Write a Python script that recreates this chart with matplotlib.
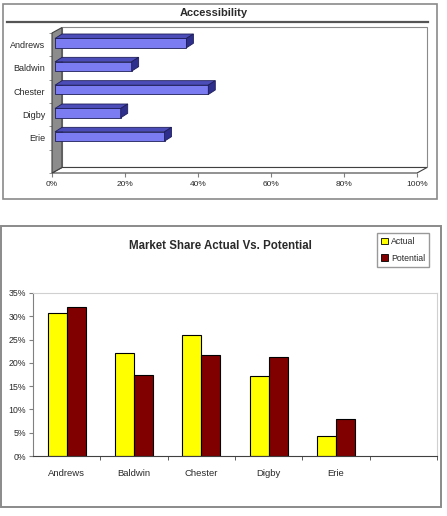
import numpy as np
import matplotlib.pyplot as plt
from matplotlib.patches import Rectangle, Polygon, Patch
from matplotlib.lines import Line2D

# Data
companies = ['Andrews', 'Baldwin', 'Chester', 'Digby', 'Erie']
accessibility = [36, 21, 42, 18, 30]          # percent
actual_share = [30.8, 22.2, 26.0, 17.2, 4.2]  # percent
potential_share = [32.0, 17.4, 21.7, 21.2, 7.9]
pct_ticks = [0, 20, 40, 60, 80, 100]
share_ticks = [0, 5, 10, 15, 20, 25, 30, 35]

W, H = 447, 516
plt.rcParams['font.family'] = ['Liberation Sans', 'DejaVu Sans']
TXT = '#2a2a2a'


def fbox(x0, y0, x1, y1):
    # pixel box (top-left origin) -> figure fraction rect
    return [x0 / W, 1 - y1 / H, (x1 - x0) / W, (y1 - y0) / H]


fig = plt.figure(figsize=(W / 100, H / 100), dpi=100)

# ---------------- Top chart: Accessibility (3-D look) ----------------
fig.add_artist(Rectangle((3 / W, 1 - 199 / H), 434 / W, 195 / H, transform=fig.transFigure,
                         fill=False, ec='#8a8a8a', lw=1.2))
fig.text(214 / W, 1 - 13 / H, 'Accessibility', ha='center', va='center',
         fontsize=8, fontweight='bold', color=TXT)
fig.add_artist(Line2D([7 / W, 428 / W], [1 - 22 / H, 1 - 22 / H], transform=fig.transFigure,
                      color='#555555', lw=1.6))

ax1 = fig.add_axes(fbox(52, 33, 417, 173))
ax1.set_xlim(0, 100)
ax1.set_ylim(5.5, -0.5)
ax1.patch.set_visible(False)
for s in ax1.spines.values():
    s.set_visible(False)

wall = (10, 5.5)      # depth offset of back plane, pixels
bar_front = (3, 1.5)
bar_back = (10, 6)


def proj(x, y, off):
    px, py = ax1.transData.transform((x, y))
    return fig.transFigure.inverted().transform((px + off[0], py + off[1]))


def poly(pts, **kw):
    fig.add_artist(Polygon([proj(x, y, o) for x, y, o in pts], closed=True,
                           transform=fig.transFigure, **kw))


z0 = (0, 0)
# back wall, floor and left wall
poly([(0, -0.5, wall), (100, -0.5, wall), (100, 5.5, wall), (0, 5.5, wall)],
     fc='white', ec='#8a8a8a', lw=0.8)
poly([(0, 5.5, z0), (100, 5.5, z0), (100, 5.5, wall), (0, 5.5, wall)],
     fc='white', ec='#404040', lw=0.8)
poly([(0, -0.5, z0), (0, 5.5, z0), (0, 5.5, wall), (0, -0.5, wall)],
     fc='#8c8c8c', ec='#404040', lw=0.8)

for i, v in enumerate(accessibility):
    y0, y1 = i - 0.2, i + 0.2
    ec = dict(ec='#1e1e5a', lw=0.6)
    poly([(0, y0, bar_front), (v, y0, bar_front), (v, y1, bar_front), (0, y1, bar_front)],
         fc='#7C7CF2', **ec)
    poly([(0, y0, bar_front), (v, y0, bar_front), (v, y0, bar_back), (0, y0, bar_back)],
         fc='#4C4CB8', **ec)
    poly([(v, y0, bar_front), (v, y1, bar_front), (v, y1, bar_back), (v, y0, bar_back)],
         fc='#2E2E8C', **ec)

ax1.set_xticks(pct_ticks)
ax1.set_xticklabels([f'{t}%' for t in pct_ticks])
ax1.set_yticks(range(len(companies)))
ax1.set_yticklabels(companies)
ax1.set_yticks(np.arange(-0.5, 6, 1), minor=True)
ax1.tick_params(axis='x', length=3, color='#808080', labelsize=6, pad=3, labelcolor=TXT)
ax1.tick_params(axis='y', which='major', length=0, labelsize=6.5, pad=5, labelcolor=TXT)
ax1.tick_params(axis='y', which='minor', length=2, color='#808080')

# ---------------- Bottom chart: Market share ----------------
fig.add_artist(Rectangle((1 / W, 1 - 507 / H), 440 / W, 281 / H, transform=fig.transFigure,
                         fill=False, ec='#8a8a8a', lw=1.4))
fig.text(220 / W, 1 - 246 / H, 'Market Share Actual Vs. Potential', ha='center', va='center',
         fontsize=8.3, fontweight='bold', color=TXT)

ax2 = fig.add_axes(fbox(33, 293, 437, 456))
x = np.arange(len(companies))
ax2.bar(x - 0.14, actual_share, 0.28, color='#FFFF00', edgecolor='black', lw=0.8)
ax2.bar(x + 0.14, potential_share, 0.28, color='#800000', edgecolor='black', lw=0.8)
ax2.set_xlim(-0.5, 5.5)
ax2.set_ylim(0, 35)
ax2.set_yticks(share_ticks)
ax2.set_yticklabels([f'{t}%' for t in share_ticks])
ax2.set_xticks(x)
ax2.set_xticklabels(companies)
ax2.set_xticks(np.arange(0.5, 6, 1), minor=True)
ax2.tick_params(axis='x', which='major', length=0, labelsize=6.8, pad=9, labelcolor=TXT)
ax2.tick_params(axis='x', which='minor', length=3, color='#404040')
ax2.tick_params(axis='y', length=3, color='#808080', labelsize=6.3, pad=2, labelcolor=TXT)
ax2.spines['left'].set_color('#808080')
ax2.spines['bottom'].set_color('#404040')
for s in ('top', 'right'):
    ax2.spines[s].set_color('#d0d0d0')

handles = [Patch(fc='#FFFF00', ec='black', lw=0.6, label='Actual'),
           Patch(fc='#800000', ec='black', lw=0.6, label='Potential')]
leg = fig.legend(handles=handles, loc='upper right', bbox_to_anchor=(429 / W, 1 - 233 / H),
                 fontsize=6.3, frameon=True, fancybox=False, handlelength=0.8, handleheight=0.8,
                 handletextpad=0.3, borderpad=0.45, labelspacing=0.9, borderaxespad=0)
leg.get_frame().set_edgecolor('#808080')
leg.get_frame().set_linewidth(1.0)
for t in leg.get_texts():
    t.set_color(TXT)

fig.savefig('out.png', dpi=100)
